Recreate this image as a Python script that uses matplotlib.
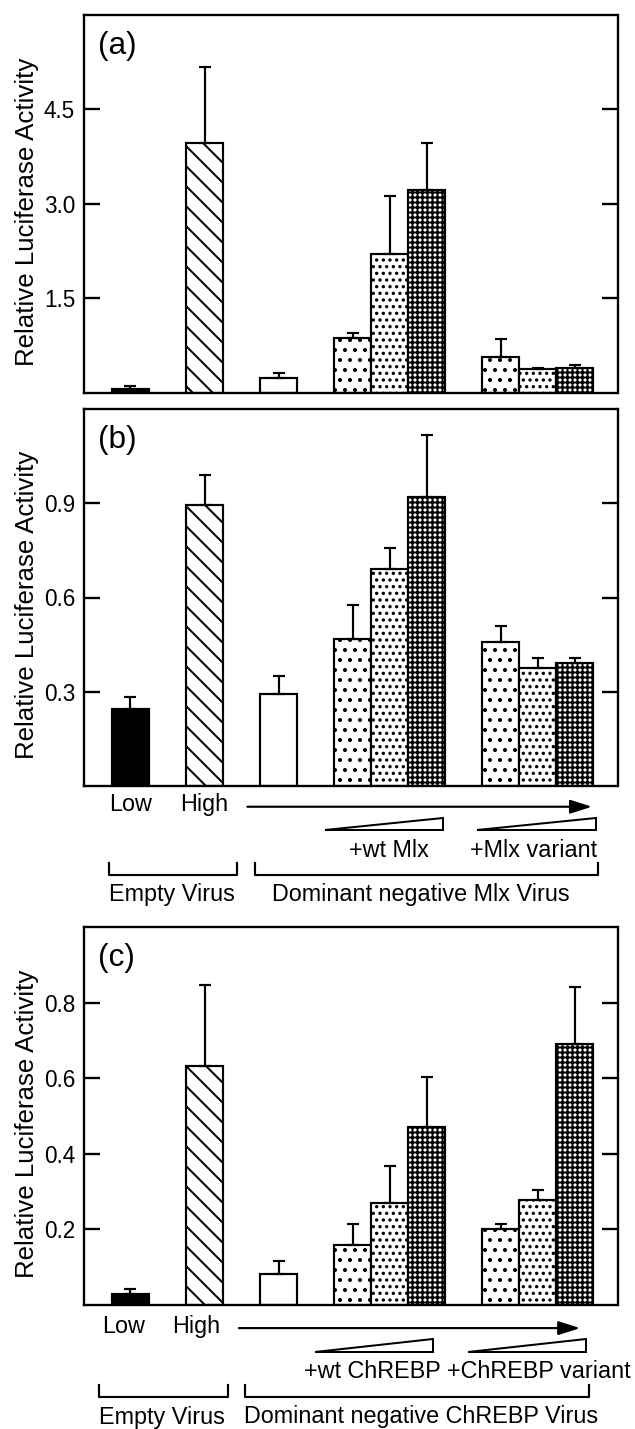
import numpy as np
import matplotlib.pyplot as plt
from matplotlib.patches import Polygon
from matplotlib.lines import Line2D
from matplotlib.transforms import blended_transform_factory

plt.rcParams['font.family'] = ['Liberation Sans', 'DejaVu Sans']
plt.rcParams['hatch.linewidth'] = 1.2

# bars: empty virus low/high, DN virus alone, + 3 doses wt, + 3 doses variant
bar_names = ['Low', 'High', 'DN', 'wt 1', 'wt 2', 'wt 3', 'var 1', 'var 2', 'var 3']

vals_a = [0.06, 3.97, 0.24, 0.87, 2.21, 3.22, 0.57, 0.37, 0.40]
err_a = [0.05, 1.21, 0.08, 0.08, 0.92, 0.75, 0.29, 0.03, 0.045]
yticks_a = [1.5, 3.0, 4.5]

vals_b = [0.245, 0.894, 0.292, 0.468, 0.692, 0.919, 0.459, 0.376, 0.393]
err_b = [0.039, 0.097, 0.058, 0.107, 0.066, 0.198, 0.049, 0.032, 0.015]
yticks_b = [0.3, 0.6, 0.9]

vals_c = [0.028, 0.633, 0.081, 0.159, 0.27, 0.472, 0.20, 0.278, 0.69]
err_c = [0.013, 0.215, 0.035, 0.054, 0.097, 0.132, 0.013, 0.026, 0.152]
yticks_c = [0.2, 0.4, 0.6, 0.8]

facecolors = ['black', 'white', 'white', 'white', 'white', 'white', 'white', 'white', 'white']
hatches = ['', '\\\\', '', '..', '...', '++++', '..', '...', '++++']

xpos = np.array([0, 2, 4, 6, 7, 8, 10, 11, 12])

fig = plt.figure(figsize=(635 / 120, 1429 / 120), dpi=120)
W, H = 635, 1429


def make_axes(top, bottom, left=83.5, right=617.5):
    return fig.add_axes([left / W, 1 - bottom / H, (right - left) / W, (bottom - top) / H])


def draw_panel(ax, vals, errs, yticks, ylim, letter):
    ax.bar(xpos, vals, width=1.0, color=facecolors, edgecolor='black',
           linewidth=1.3, hatch=hatches, zorder=2)
    ax.errorbar(xpos, vals, yerr=[np.zeros(len(vals)), errs], fmt='none',
                ecolor='black', elinewidth=1.3, capsize=3.6, capthick=1.3, zorder=3)
    ax.set_xlim(-1.27, 13.16)
    ax.set_ylim(*ylim)
    ax.set_yticks(yticks)
    ax.set_yticklabels(['%.1f' % t for t in yticks])
    ax.set_xticks([])
    ax.tick_params(axis='y', direction='in', length=9.6, width=1.4, right=True,
                   labelsize=13.5, pad=5)
    for s in ax.spines.values():
        s.set_linewidth(1.4)
    ax.set_ylabel('Relative Luciferase Activity', fontsize=15.5)
    ax.yaxis.set_label_coords(-0.083, 0.48)
    ax.text(0.027, 0.958, letter, transform=ax.transAxes, va='top', fontsize=19)


def draw_legend(ax, spec):
    tr = blended_transform_factory(ax.transData, ax.transAxes)
    fs = 14
    ax.text(spec['low'][0], spec['low'][1], 'Low', transform=tr, ha='center', va='center', fontsize=fs)
    ax.text(spec['high'][0], spec['high'][1], 'High', transform=tr, ha='center', va='center', fontsize=fs)
    (x0, x1), ya = spec['arrow']
    ax.annotate('', xy=(x1, ya), xytext=(x0, ya), xycoords=tr, textcoords=tr,
                arrowprops=dict(arrowstyle='-|>,head_length=1.1,head_width=0.35',
                                mutation_scale=10, lw=1.3, color='black',
                                shrinkA=0, shrinkB=0), annotation_clip=False)
    yb, yt = spec['wedge_y']
    for (w0, w1) in spec['wedges']:
        ax.add_patch(Polygon([(w0, yb), (w1, yb), (w1, yt)], closed=True, facecolor='white',
                             edgecolor='black', linewidth=1.2, transform=tr, clip_on=False))
    for (tx, ty), s in zip(spec['dose_text'], spec['dose_labels']):
        ax.text(tx, ty, s, transform=tr, ha='center', va='center', fontsize=fs)
    bt, bb = spec['bracket_y']
    for (b0, b1) in spec['brackets']:
        ax.add_line(Line2D([b0, b0, b1, b1], [bt, bb, bb, bt], color='black', lw=1.3,
                           transform=tr, clip_on=False))
    for (tx, ty), s in zip(spec['group_text'], spec['group_labels']):
        ax.text(tx, ty, s, transform=tr, ha='center', va='center', fontsize=fs)


ax_a = make_axes(15, 392.7)
draw_panel(ax_a, vals_a, err_a, yticks_a, (0, 6.0), '(a)')

ax_b = make_axes(409, 786)
draw_panel(ax_b, vals_b, err_b, yticks_b, (0, 1.2), '(b)')

ax_c = make_axes(927.3, 1304.7)
draw_panel(ax_c, vals_c, err_c, yticks_c, (0, 1.0), '(c)')

draw_legend(ax_b, {
    'low': (0.0, -0.048), 'high': (2.0, -0.048),
    'arrow': ((3.16, 12.47), -0.055),
    'wedge_y': (-0.1167, -0.084), 'wedges': [(5.26, 8.44), (9.36, 12.57)],
    'dose_text': [(6.99, -0.17), (10.89, -0.17)],
    'dose_labels': ['+wt Mlx', '+Mlx variant'],
    'bracket_y': (-0.205, -0.236), 'brackets': [(-0.59, 2.89), (3.365, 12.64)],
    'group_text': [(1.11, -0.289), (7.85, -0.289)],
    'group_labels': ['Empty Virus', 'Dominant negative Mlx Virus'],
})

draw_legend(ax_c, {
    'low': (-0.2, -0.058), 'high': (1.78, -0.058),
    'arrow': ((2.93, 12.15), -0.062),
    'wedge_y': (-0.126, -0.092), 'wedges': [(4.99, 8.18), (9.11, 12.31)],
    'dose_text': [(6.53, -0.1775), (11.04, -0.1775)],
    'dose_labels': ['+wt ChREBP', '+ChREBP variant'],
    'bracket_y': (-0.213, -0.244), 'brackets': [(-0.85, 2.63), (3.10, 12.39)],
    'group_text': [(0.86, -0.30), (7.85, -0.297)],
    'group_labels': ['Empty Virus', 'Dominant negative ChREBP Virus'],
})

fig.savefig('out.png', dpi=120, facecolor='white')
